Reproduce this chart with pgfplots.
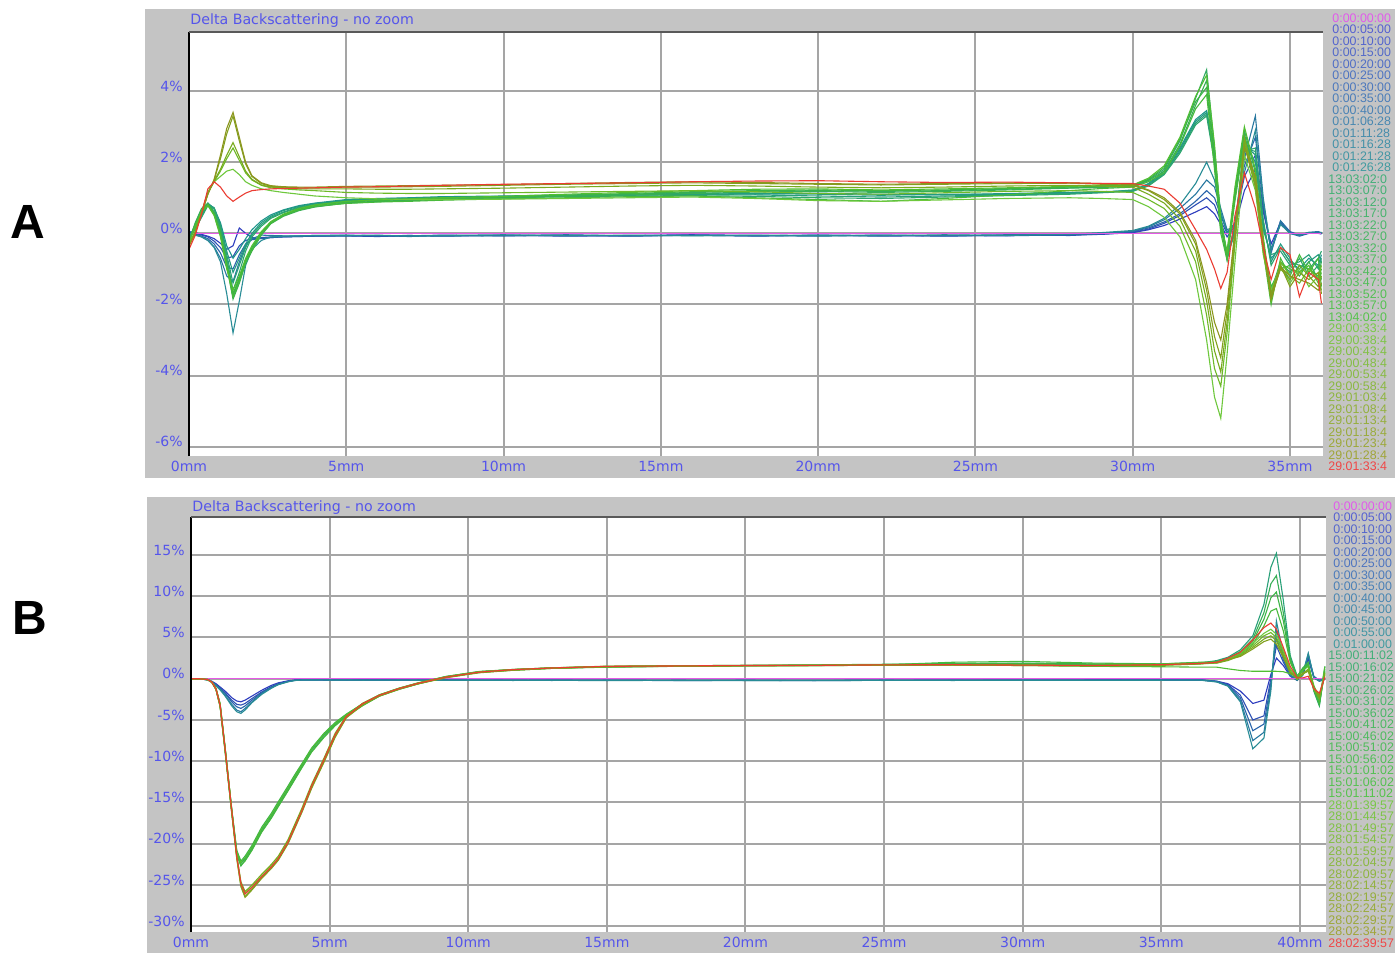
\documentclass[border=0pt]{standalone}
\usepackage{fontspec}
\setmainfont{DejaVu Sans}
\newfontfamily\arialbold{Liberation Sans}[BoldFont=* Bold]
\newfontfamily\legfam{Liberation Sans}
\usepackage{pgfplots}
\usepackage{pgfplotstable}
\pgfplotsset{compat=1.18}

\definecolor{bgGrey}{RGB}{196,196,196}
\definecolor{gridGrey}{RGB}{165,165,165}
\definecolor{tickBlue}{RGB}{85,85,235}
\definecolor{cMag}{RGB}{230,90,230}
\definecolor{cB1}{RGB}{45,60,190}
\definecolor{cB2}{RGB}{45,80,180}
\definecolor{cB3}{RGB}{40,100,170}
\definecolor{cB4}{RGB}{40,120,160}
\definecolor{cB5}{RGB}{40,140,150}
\definecolor{cT1}{RGB}{30,150,140}
\definecolor{cT2}{RGB}{35,155,130}
\definecolor{cT3}{RGB}{40,160,120}
\definecolor{cT4}{RGB}{45,165,110}
\definecolor{cG1}{RGB}{50,170,100}
\definecolor{cG2}{RGB}{55,175,85}
\definecolor{cG3}{RGB}{60,180,70}
\definecolor{cG4}{RGB}{70,185,60}
\definecolor{cG5}{RGB}{80,190,50}
\definecolor{cO1}{RGB}{110,200,60}
\definecolor{cO2}{RGB}{110,185,40}
\definecolor{cO3}{RGB}{120,170,30}
\definecolor{cO4}{RGB}{130,160,30}
\definecolor{cO5}{RGB}{140,150,30}
\definecolor{cRed}{RGB}{235,60,50}
\definecolor{lMag}{RGB}{225,90,235}
\definecolor{lBlue}{RGB}{85,95,210}
\definecolor{lTeal}{RGB}{65,155,160}
\definecolor{lGa}{RGB}{65,175,120}
\definecolor{lGb}{RGB}{85,195,75}
\definecolor{lOa}{RGB}{120,200,70}
\definecolor{lOb}{RGB}{160,165,55}
\definecolor{lRed}{RGB}{240,70,70}

\newcommand\ticklab{\fontsize{7}{8}\selectfont}
\newcommand\legfont{\legfam\fontsize{6.2}{6.5}\selectfont}
\newcommand\titlefont{\fontsize{7.1}{8}\selectfont}

\pgfplotstableread{
x b1 b2 b3 b4 b5 t1 t2 t3 t4 g1 g2 g3 g4 g5 o1 o2 o3 o4 o5 r
0 0.05 0.03 0.02 0.0 0.0 -0.1 -0.12 -0.15 -0.15 -0.2 -0.22 -0.25 -0.25 -0.28 -0.3 -0.32 -0.33 -0.35 -0.36 -0.45
0.2 0.02 0.0 -0.02 -0.05 -0.05 0.2 0.18 0.15 0.12 0.3 0.28 0.25 0.22 0.2 0.05 0.05 0.04 0.03 0.02 -0.05
0.4 -0.03 -0.05 -0.08 -0.1 -0.1 0.55 0.5 0.48 0.45 0.7 0.68 0.65 0.62 0.6 0.6 0.6 0.58 0.57 0.55 0.55
0.6 -0.08 -0.1 -0.15 -0.2 -0.2 0.85 0.82 0.8 0.78 0.85 0.83 0.8 0.8 0.78 1.15 1.15 1.12 1.1 1.1 1.25
0.8 -0.15 -0.22 -0.3 -0.38 -0.4 0.7 0.72 0.7 0.68 0.6 0.58 0.55 0.52 0.5 1.45 1.45 1.48 1.5 1.52 1.45
1.0 -0.28 -0.4 -0.55 -0.7 -0.8 0.3 0.25 0.2 0.15 0.1 0.05 0.0 -0.05 -0.1 1.6 1.75 1.8 2.1 2.2 1.3
1.2 -0.45 -0.7 -0.95 -1.2 -1.7 -0.35 -0.5 -0.6 -0.7 -0.8 -0.9 -0.85 -0.95 -1.0 1.75 2.1 2.2 2.8 2.95 1.05
1.4 -0.35 -0.65 -1.0 -1.35 -2.8 -0.7 -1.1 -1.4 -1.6 -1.75 -1.85 -1.7 -1.8 -1.6 1.8 2.4 2.55 3.3 3.4 0.9
1.6 0.15 -0.35 -0.6 -0.8 -1.9 -0.45 -0.7 -0.9 -1.1 -1.3 -1.4 -1.25 -1.35 -1.2 1.65 2.05 2.15 2.6 2.7 1.02
1.8 0.0 -0.2 -0.3 -0.35 -0.9 -0.15 -0.3 -0.4 -0.5 -0.8 -0.85 -0.75 -0.8 -0.7 1.45 1.7 1.75 1.95 2.0 1.13
2.0 -0.12 -0.15 -0.18 -0.15 -0.45 0.1 0.0 -0.05 -0.1 -0.45 -0.5 -0.4 -0.48 -0.35 1.35 1.5 1.52 1.6 1.62 1.2
2.3 -0.15 -0.12 -0.14 -0.05 -0.2 0.35 0.3 0.25 0.2 0.0 -0.05 0.02 -0.02 0.05 1.25 1.35 1.36 1.4 1.42 1.23
2.6 -0.12 -0.1 -0.12 -0.06 -0.1 0.52 0.48 0.45 0.42 0.3 0.27 0.3 0.28 0.33 1.2 1.28 1.3 1.32 1.34 1.25
3.0 -0.1 -0.09 -0.1 -0.07 -0.08 0.66 0.64 0.6 0.58 0.5 0.48 0.52 0.5 0.54 1.15 1.25 1.28 1.3 1.31 1.26
3.5 -0.09 -0.08 -0.09 -0.07 -0.07 0.78 0.76 0.74 0.72 0.66 0.64 0.68 0.66 0.7 1.1 1.22 1.25 1.28 1.3 1.27
4.0 -0.08 -0.07 -0.08 -0.06 -0.06 0.85 0.84 0.82 0.8 0.75 0.74 0.78 0.76 0.8 1.05 1.2 1.25 1.28 1.3 1.28
5 -0.07 -0.06 -0.08 -0.05 -0.06 0.95 0.93 0.92 0.9 0.86 0.85 0.88 0.84 0.9 1.0 1.15 1.25 1.3 1.32 1.3
6 -0.09 -0.08 -0.06 -0.07 -0.05 0.98 0.97 0.95 0.94 0.9 0.89 0.92 0.88 0.94 0.97 1.13 1.24 1.3 1.33 1.31
7 -0.06 -0.07 -0.09 -0.06 -0.08 1.0 0.99 0.98 0.97 0.93 0.92 0.95 0.9 0.97 0.95 1.12 1.24 1.31 1.34 1.33
8 -0.08 -0.05 -0.06 -0.08 -0.06 1.03 1.01 1.0 0.99 0.96 0.95 0.98 0.93 1.0 0.95 1.12 1.25 1.32 1.35 1.35
10 -0.05 -0.07 -0.07 -0.06 -0.04 1.05 1.04 1.02 1.01 1.0 0.99 1.02 0.97 1.04 0.96 1.14 1.27 1.35 1.37 1.38
12 -0.08 -0.06 -0.05 -0.04 -0.07 1.08 1.06 1.05 1.03 1.05 1.04 1.07 1.0 1.1 0.98 1.16 1.3 1.38 1.4 1.4
14 -0.06 -0.08 -0.07 -0.07 -0.05 1.1 1.08 1.07 1.05 1.1 1.08 1.12 1.03 1.15 1.0 1.18 1.33 1.4 1.43 1.42
16 -0.04 -0.05 -0.06 -0.05 -0.07 1.12 1.1 1.09 1.06 1.15 1.12 1.17 1.05 1.2 1.02 1.2 1.35 1.42 1.45 1.45
18 -0.07 -0.06 -0.08 -0.06 -0.05 1.1 1.12 1.08 1.04 1.18 1.16 1.2 1.0 1.24 0.98 1.17 1.33 1.4 1.43 1.47
20 -0.05 -0.07 -0.05 -0.08 -0.06 1.13 1.1 1.05 1.0 1.2 1.18 1.22 0.95 1.25 0.92 1.12 1.3 1.38 1.4 1.48
22 -0.08 -0.05 -0.06 -0.05 -0.07 1.1 1.07 1.02 0.98 1.18 1.15 1.2 0.9 1.22 0.9 1.1 1.28 1.36 1.38 1.45
24 -0.06 -0.08 -0.07 -0.06 -0.04 1.08 1.1 1.05 1.02 1.2 1.18 1.22 0.98 1.25 0.94 1.14 1.3 1.38 1.4 1.43
26 -0.07 -0.05 -0.06 -0.04 -0.06 1.12 1.1 1.08 1.06 1.24 1.22 1.26 1.08 1.28 0.98 1.18 1.33 1.4 1.42 1.44
28 -0.04 -0.06 -0.05 -0.03 -0.02 1.15 1.13 1.12 1.1 1.28 1.27 1.3 1.2 1.32 1.0 1.2 1.35 1.41 1.42 1.42
29 -0.03 -0.02 -0.01 0.0 0.02 1.17 1.15 1.16 1.14 1.3 1.29 1.32 1.26 1.34 0.98 1.18 1.33 1.38 1.4 1.4
30 0.02 0.03 0.05 0.06 0.08 1.2 1.22 1.2 1.18 1.33 1.32 1.35 1.3 1.36 0.95 1.15 1.3 1.35 1.37 1.4
30.5 0.1 0.12 0.15 0.18 0.2 1.4 1.38 1.35 1.33 1.5 1.48 1.52 1.45 1.55 0.75 0.95 1.1 1.2 1.22 1.33
31 0.22 0.28 0.32 0.38 0.42 1.75 1.7 1.68 1.65 1.8 1.75 1.85 1.7 1.9 0.45 0.7 0.85 0.95 1.0 1.24
31.5 0.4 0.5 0.55 0.7 0.8 2.4 2.35 2.3 2.25 2.6 2.5 2.65 2.45 2.7 -0.1 0.2 0.4 0.55 0.6 0.85
32 0.6 0.8 0.9 1.1 1.4 3.2 3.15 3.1 3.05 3.8 3.6 3.7 3.5 3.85 -1.3 -0.8 -0.5 -0.3 -0.2 0.1
32.35 0.75 1.0 1.2 1.5 2.0 3.45 3.4 3.35 3.3 4.6 4.3 4.1 3.9 4.45 -3.0 -2.3 -1.9 -1.6 -1.4 -0.45
32.6 0.55 0.8 1.0 1.3 1.5 2.3 2.2 2.1 2.0 2.4 2.2 2.0 1.8 2.5 -4.6 -3.8 -3.3 -2.9 -2.5 -1.0
32.8 0.25 0.35 0.5 0.7 0.6 0.5 0.4 0.3 0.35 0.3 0.2 0.1 0.0 0.4 -5.2 -4.3 -3.9 -3.5 -3.0 -1.55
33.0 -0.1 0.0 0.05 0.1 0.0 -0.7 -0.6 -0.75 -0.65 -0.6 -0.7 -0.5 -0.75 -0.55 -3.4 -2.8 -2.5 -2.2 -2.0 -1.1
33.25 0.2 0.3 0.15 0.2 0.25 0.1 0.2 0.15 0.0 1.0 1.2 1.1 0.9 1.3 -0.8 -0.3 -0.2 0.0 0.1 0.5
33.55 1.2 1.6 1.9 2.1 1.7 2.6 2.5 2.4 2.3 2.8 2.9 2.7 2.6 3.0 2.2 2.6 2.7 2.5 2.4 1.7
33.9 1.8 2.2 2.7 3.3 2.9 2.0 2.2 2.3 2.4 1.5 1.7 1.4 1.3 1.8 1.2 1.4 1.5 1.3 1.6 0.7
34.15 0.6 0.7 0.8 1.0 0.9 0.2 0.3 0.1 0.4 -0.3 -0.2 -0.4 -0.5 -0.1 -0.6 -0.4 -0.5 -0.3 -0.2 -0.4
34.4 -0.3 -0.45 -0.5 -0.55 -0.45 -0.7 -0.8 -0.6 -0.9 -1.6 -1.8 -1.5 -2.0 -1.7 -1.6 -1.9 -1.8 -1.7 -1.85 -1.3
34.7 0.3 0.35 0.3 0.35 0.25 -0.4 -0.3 -0.5 -0.4 -0.8 -0.9 -1.0 -0.7 -0.85 -0.9 -0.8 -1.0 -0.9 -0.95 -0.4
35.0 0.0 0.05 0.0 0.02 0.0 -0.8 -0.7 -0.9 -0.8 -1.1 -1.3 -0.9 -1.2 -1.0 -1.4 -1.2 -1.3 -1.5 -1.2 -0.6
35.3 -0.05 -0.05 -0.08 -0.05 -0.05 -1.0 -1.1 -0.8 -0.9 -0.7 -0.9 -1.2 -0.6 -1.1 -1.0 -1.4 -0.9 -1.1 -1.3 -1.78
35.6 0.02 0.0 0.0 0.03 0.02 -0.7 -0.8 -0.6 -1.0 -1.2 -1.0 -0.8 -1.1 -0.9 -1.5 -1.0 -1.2 -1.3 -1.4 -1.1
35.9 0.0 0.03 0.04 0.05 0.0 -0.9 -0.6 -1.0 -0.7 -0.9 -1.2 -1.3 -0.7 -1.4 -1.2 -1.3 -1.5 -1.1 -1.6 -1.3
36.0 -0.02 0.0 0.02 0.0 0.03 -0.6 -0.8 -0.7 -0.5 -1.3 -0.8 -1.0 -1.5 -1.1 -1.6 -0.9 -1.2 -1.7 -1.4 -1.97
}\tabA

\pgfplotstableread{
x b1 b2 b3 b4 b5 g1 g2 g3 g4 g5 o1 o2 o3 o4 r
0 0 0 0 0 0 0 0 0 0 0 0 0 0 0 0
0.3 0 0 0 0 0 0 0 0 0 0 0 0 0 0 0
0.6 -0.1 -0.12 -0.12 -0.15 -0.15 -0.1 -0.1 -0.1 -0.12 -0.1 -0.1 -0.1 -0.1 -0.12 -0.1
0.75 -0.3 -0.35 -0.38 -0.4 -0.42 -0.4 -0.4 -0.4 -0.45 -0.38 -0.4 -0.42 -0.4 -0.43 -0.4
0.9 -0.6 -0.7 -0.75 -0.8 -0.85 -1.2 -1.3 -1.2 -1.3 -1.15 -1.2 -1.25 -1.2 -1.3 -1.2
1.05 -1.0 -1.1 -1.2 -1.3 -1.35 -3.2 -3.4 -3.1 -3.3 -3.0 -3.2 -3.3 -3.1 -3.35 -3.2
1.23 -1.5 -1.7 -1.8 -2.0 -2.1 -8.5 -8.8 -8.4 -8.6 -8.3 -8.5 -8.7 -8.4 -8.8 -8.5
1.47 -2.3 -2.6 -2.8 -3.1 -3.3 -16.0 -16.3 -15.8 -16.1 -15.9 -16.0 -16.2 -15.9 -16.3 -16.0
1.65 -2.7 -3.1 -3.4 -3.8 -4.0 -21.0 -21.3 -20.8 -21.2 -20.9 -21.5 -21.7 -21.4 -21.8 -21.5
1.8 -2.8 -3.2 -3.6 -4.0 -4.2 -22.4 -22.7 -22.1 -22.6 -22.3 -24.8 -25.1 -24.6 -25.2 -24.8
1.95 -2.6 -3.0 -3.3 -3.6 -3.8 -21.8 -22.0 -21.5 -22.1 -21.7 -26.0 -26.4 -25.8 -26.5 -26.1
2.2 -2.1 -2.4 -2.6 -2.8 -2.9 -20.5 -20.7 -20.2 -20.8 -20.4 -25.2 -25.5 -25.0 -25.6 -25.3
2.55 -1.4 -1.6 -1.7 -1.8 -1.9 -18.3 -18.5 -18.0 -18.6 -18.2 -23.9 -24.1 -23.7 -24.2 -24.0
2.9 -0.8 -0.95 -1.0 -1.1 -1.15 -16.6 -16.8 -16.3 -16.9 -16.5 -22.7 -22.9 -22.5 -23.0 -22.8
3.15 -0.5 -0.6 -0.65 -0.7 -0.72 -15.2 -15.4 -14.9 -15.5 -15.1 -21.7 -21.9 -21.5 -22.0 -21.8
3.5 -0.25 -0.3 -0.32 -0.35 -0.38 -13.3 -13.5 -13.0 -13.6 -13.2 -19.7 -19.9 -19.5 -20.0 -19.8
3.75 -0.15 -0.18 -0.2 -0.2 -0.22 -11.9 -12.1 -11.6 -12.2 -11.8 -17.8 -18.0 -17.6 -18.1 -17.9
4.0 -0.12 -0.14 -0.15 -0.15 -0.16 -10.5 -10.7 -10.3 -10.8 -10.4 -15.9 -16.1 -15.7 -16.2 -16.0
4.35 -0.12 -0.14 -0.15 -0.13 -0.16 -8.6 -8.8 -8.4 -8.9 -8.5 -13.0 -13.2 -12.8 -13.3 -13.0
4.8 -0.14 -0.15 -0.16 -0.15 -0.14 -6.8 -7.0 -6.6 -7.1 -6.7 -9.8 -10.0 -9.6 -10.1 -9.8
5.2 -0.13 -0.15 -0.14 -0.16 -0.17 -5.5 -5.6 -5.3 -5.7 -5.4 -6.8 -7.0 -6.6 -7.1 -6.8
5.6 -0.15 -0.16 -0.17 -0.14 -0.15 -4.4 -4.5 -4.3 -4.6 -4.35 -4.6 -4.7 -4.5 -4.75 -4.6
6.2 -0.14 -0.17 -0.15 -0.17 -0.18 -3.1 -3.2 -3.0 -3.25 -3.05 -3.0 -3.1 -2.95 -3.15 -3.0
6.8 -0.16 -0.15 -0.18 -0.16 -0.17 -2.0 -2.1 -1.95 -2.1 -1.98 -2.0 -2.05 -1.95 -2.1 -2.0
7.5 -0.15 -0.18 -0.16 -0.18 -0.16 -1.2 -1.25 -1.15 -1.3 -1.18 -1.2 -1.25 -1.15 -1.28 -1.2
8.2 -0.17 -0.16 -0.19 -0.17 -0.19 -0.55 -0.6 -0.5 -0.62 -0.52 -0.55 -0.6 -0.5 -0.62 -0.55
9.2 -0.16 -0.19 -0.17 -0.18 -0.2 0.25 0.2 0.28 0.18 0.26 0.2 0.15 0.22 0.12 0.2
10.4 -0.18 -0.17 -0.2 -0.19 -0.18 0.85 0.8 0.88 0.78 0.86 0.8 0.75 0.82 0.72 0.8
11.6 -0.17 -0.2 -0.18 -0.2 -0.21 1.1 1.05 1.12 1.02 1.08 1.1 1.05 1.12 1.02 1.1
13 -0.19 -0.18 -0.21 -0.19 -0.2 1.3 1.28 1.32 1.25 1.3 1.3 1.27 1.32 1.25 1.3
15 -0.18 -0.21 -0.19 -0.2 -0.22 1.45 1.42 1.48 1.4 1.44 1.5 1.47 1.52 1.45 1.5
17.5 -0.2 -0.19 -0.22 -0.21 -0.2 1.55 1.52 1.57 1.5 1.53 1.55 1.52 1.57 1.5 1.55
20 -0.19 -0.2 -0.2 -0.22 -0.21 1.6 1.58 1.62 1.56 1.58 1.6 1.58 1.62 1.56 1.6
22.5 -0.2 -0.22 -0.21 -0.2 -0.23 1.65 1.62 1.68 1.6 1.6 1.62 1.6 1.64 1.58 1.62
25 -0.18 -0.2 -0.19 -0.21 -0.2 1.7 1.72 1.75 1.68 1.62 1.68 1.66 1.7 1.64 1.68
27.5 -0.19 -0.18 -0.2 -0.19 -0.21 1.75 1.85 1.8 2.0 1.65 1.7 1.68 1.72 1.66 1.7
30 -0.17 -0.19 -0.18 -0.2 -0.19 1.75 1.9 1.85 2.1 1.6 1.65 1.62 1.68 1.6 1.65
32.5 -0.16 -0.17 -0.19 -0.18 -0.2 1.7 1.8 1.75 1.9 1.5 1.6 1.58 1.62 1.55 1.6
35 -0.15 -0.16 -0.17 -0.17 -0.18 1.75 1.8 1.7 1.8 1.45 1.7 1.65 1.72 1.62 1.7
36.4 -0.13 -0.15 -0.16 -0.15 -0.17 1.9 1.95 1.85 2.0 1.4 1.85 1.8 1.88 1.78 1.85
37.0 -0.3 -0.3 -0.35 -0.35 -0.4 2.2 2.1 2.0 2.0 1.4 2.0 1.9 1.9 2.0 2.0
37.4 -0.6 -0.7 -0.8 -0.85 -0.9 2.6 2.5 2.4 2.3 1.2 2.4 2.3 2.2 2.3 2.5
37.85 -1.5 -2.0 -2.3 -2.6 -2.8 3.5 3.3 3.1 3.0 1.0 3.1 2.9 2.8 2.7 3.2
38.3 -3.0 -5.0 -6.3 -7.5 -8.5 5.2 4.8 4.5 4.2 0.9 4.3 4.0 3.8 3.6 4.7
38.7 -2.6 -4.5 -5.5 -6.5 -7.2 9.0 8.0 7.2 6.4 0.9 5.5 5.2 4.8 4.5 6.2
38.95 0.5 0.0 -0.5 -1.0 -1.5 13.5 11.5 9.8 8.2 0.9 6.0 5.6 5.2 4.8 6.75
39.15 2.5 4.0 5.0 6.0 7.0 15.2 12.5 10.5 8.5 0.9 5.4 5.0 4.6 4.2 6.0
39.4 1.6 2.0 2.3 2.6 2.8 9.5 8.0 7.0 5.8 0.85 3.5 3.2 2.8 2.6 3.8
39.65 0.3 0.4 0.3 0.4 0.5 2.8 2.5 2.2 2.0 0.6 1.2 1.0 0.8 0.7 1.5
39.9 -0.1 -0.1 -0.2 -0.2 -0.1 0.3 0.2 0.3 0.1 0.3 0.0 -0.1 0.0 0.1 0.1
40.1 0.5 0.6 0.4 0.5 0.6 1.2 1.0 1.3 1.1 1.0 0.6 0.5 0.7 0.6 0.1
40.3 2.4 2.6 2.8 3.0 3.1 1.8 1.6 2.0 1.7 1.5 1.0 1.2 1.1 0.9 0.3
40.5 0.2 0.1 0.3 0.2 0.1 -1.5 -1.2 -1.4 -1.0 -0.8 -1.2 -1.0 -1.3 -1.1 -1.2
40.7 -0.2 -0.3 -0.2 -0.3 -0.25 -3.3 -3.0 -3.2 -2.8 -2.5 -2.2 -2.0 -2.4 -2.1 -1.75
40.9 0.0 0.1 0.0 -0.1 0.05 1.5 1.2 1.0 0.8 1.5 0.6 0.5 0.7 0.4 0.2
}\tabB

\pgfplotsset{
  bsplot/.style={
    scale only axis,
    axis background/.style={fill=white},
    axis x line=bottom, axis y line=left,
    axis line style={draw=none},
    major tick length=0pt,
    grid=major,
    major grid style={gridGrey, line width=1pt},
    tick label style={font=\ticklab, text=tickBlue, inner sep=0pt},
    xticklabel style={yshift=-2.5pt},
    yticklabel style={xshift=-3pt, yshift=2.5pt},
    clip=false,
  },
  ln/.style={line width=0.55pt},
}

\begin{document}
\begin{tikzpicture}
\useasboundingbox (0pt,0pt) rectangle (697.5pt,-476.5pt);
\fill[white] (0pt,0pt) rectangle (697.5pt,-476.5pt);
\fill[bgGrey] (72.5pt,-4.5pt) rectangle (697.5pt,-239pt);
\fill[bgGrey] (73.5pt,-248.5pt) rectangle (697.5pt,-476.5pt);

% ---------------- Panel A ----------------
\begin{axis}[bsplot,
  at={(94.5pt,-16pt)}, anchor=north west,
  width=567pt, height=212pt,
  xmin=0, xmax=36.05, ymin=-6.26, ymax=5.66,
  xtick={0,5,...,35}, xticklabels={0mm,5mm,10mm,15mm,20mm,25mm,30mm,35mm},
  ytick={-6,-4,...,4}, yticklabels={-6\%,-4\%,-2\%,0\%,2\%,4\%},
]
\addplot[ln, cB1] table[x=x,y=b1]{\tabA};
\addplot[ln, cB2] table[x=x,y=b2]{\tabA};
\addplot[ln, cB3] table[x=x,y=b3]{\tabA};
\addplot[ln, cB4] table[x=x,y=b4]{\tabA};
\addplot[ln, cB5] table[x=x,y=b5]{\tabA};
\addplot[ln, cMag] coordinates {(0,0) (36.0,0)};
\addplot[ln, cT1] table[x=x,y=t1]{\tabA};
\addplot[ln, cT2] table[x=x,y=t2]{\tabA};
\addplot[ln, cT3] table[x=x,y=t3]{\tabA};
\addplot[ln, cT4] table[x=x,y=t4]{\tabA};
\addplot[ln, cG1] table[x=x,y=g1]{\tabA};
\addplot[ln, cG2] table[x=x,y=g2]{\tabA};
\addplot[ln, cG3] table[x=x,y=g3]{\tabA};
\addplot[ln, cG4] table[x=x,y=g4]{\tabA};
\addplot[ln, cG5] table[x=x,y=g5]{\tabA};
\addplot[ln, cO1] table[x=x,y=o1]{\tabA};
\addplot[ln, cO2] table[x=x,y=o2]{\tabA};
\addplot[ln, cO3] table[x=x,y=o3]{\tabA};
\addplot[ln, cO4] table[x=x,y=o4]{\tabA};
\addplot[ln, cO5] table[x=x,y=o5]{\tabA};
\addplot[ln, cRed] table[x=x,y=r]{\tabA};
\draw[black, line width=1.2pt] (rel axis cs:0,0) -- (rel axis cs:0,1);
\draw[black!65, line width=1.2pt] (rel axis cs:0,1) -- (rel axis cs:1,1);
\end{axis}

% ---------------- Panel B ----------------
\begin{axis}[bsplot,
  at={(95.5pt,-258.5pt)}, anchor=north west,
  width=567.5pt, height=207.5pt,
  xmin=0, xmax=40.94, ymin=-30.7, ymax=19.6,
  xtick={0,5,...,40}, xticklabels={0mm,5mm,10mm,15mm,20mm,25mm,30mm,35mm,40mm},
  ytick={-30,-25,...,15}, yticklabels={-30\%,-25\%,-20\%,-15\%,-10\%,-5\%,0\%,5\%,10\%,15\%},
]
\addplot[ln, cB1] table[x=x,y=b1]{\tabB};
\addplot[ln, cB2] table[x=x,y=b2]{\tabB};
\addplot[ln, cB3] table[x=x,y=b3]{\tabB};
\addplot[ln, cB4] table[x=x,y=b4]{\tabB};
\addplot[ln, cB5] table[x=x,y=b5]{\tabB};
\addplot[ln, cMag] coordinates {(0,0) (40.9,0)};
\addplot[ln, cT3] table[x=x,y=g1]{\tabB};
\addplot[ln, cG2] table[x=x,y=g2]{\tabB};
\addplot[ln, cG3] table[x=x,y=g3]{\tabB};
\addplot[ln, cG4] table[x=x,y=g4]{\tabB};
\addplot[ln, cG5] table[x=x,y=g5]{\tabB};
\addplot[ln, cO1] table[x=x,y=o1]{\tabB};
\addplot[ln, cO2] table[x=x,y=o2]{\tabB};
\addplot[ln, cO3] table[x=x,y=o3]{\tabB};
\addplot[ln, cO4] table[x=x,y=o4]{\tabB};
\addplot[ln, cRed] table[x=x,y=r]{\tabB};
\draw[black, line width=1.2pt] (rel axis cs:0,0) -- (rel axis cs:0,1);
\draw[black!65, line width=1.2pt] (rel axis cs:0,1) -- (rel axis cs:1,1);
\end{axis}

% titles
\node[anchor=base west, inner sep=0pt, text=tickBlue, font=\titlefont] at (95pt,-12.5pt) {Delta Backscattering - no zoom};
\node[anchor=base west, inner sep=0pt, text=tickBlue, font=\titlefont] at (96pt,-255.5pt) {Delta Backscattering - no zoom};

% panel letters
\node[font=\arialbold\bfseries\fontsize{24}{24}\selectfont, inner sep=0pt] at (14pt,-111pt) {A};
\node[font=\arialbold\bfseries\fontsize{24}{24}\selectfont, inner sep=0pt] at (15pt,-309pt) {B};

% legend A
\tikzset{leg/.style={anchor=west, inner sep=0pt, font=\legfont}}
\node[leg, text=lMag] at (666pt,-9pt) {0:00:00:00};
\foreach \lab [count=\k from 0] in {0:00:05:00,0:00:10:00,0:00:15:00,0:00:20:00,0:00:25:00,0:00:30:00,0:00:35:00,0:00:40:00,0:01:06:28,0:01:11:28,0:01:16:28,0:01:21:28,0:01:26:28}{
  \pgfmathtruncatemacro\p{100-100*\k/12}
  \pgfmathsetmacro\yy{-(9+5.75*(\k+1))}
  \node[leg, text=lBlue!\p!lTeal] at (666pt,\yy pt) {\lab};
}
\foreach \lab [count=\k from 0] in {13:03:02:0,13:03:07:0,13:03:12:0,13:03:17:0,13:03:22:0,13:03:27:0,13:03:32:0,13:03:37:0,13:03:42:0,13:03:47:0,13:03:52:0,13:03:57:0,13:04:02:0}{
  \pgfmathtruncatemacro\p{100-100*\k/12}
  \pgfmathsetmacro\yy{-(9+5.75*(\k+14))}
  \node[leg, text=lGa!\p!lGb] at (664pt,\yy pt) {\lab};
}
\foreach \lab [count=\k from 0] in {29:00:33:4,29:00:38:4,29:00:43:4,29:00:48:4,29:00:53:4,29:00:58:4,29:01:03:4,29:01:08:4,29:01:13:4,29:01:18:4,29:01:23:4,29:01:28:4}{
  \pgfmathtruncatemacro\p{100-100*\k/11}
  \pgfmathsetmacro\yy{-(9+5.75*(\k+27))}
  \node[leg, text=lOa!\p!lOb] at (664pt,\yy pt) {\lab};
}
\node[leg, text=lRed] at (664pt,{-(9+5.75*39)*1pt}) {29:01:33:4};

% legend B
\node[leg, text=lMag] at (666.5pt,-253pt) {0:00:00:00};
\foreach \lab [count=\k from 0] in {0:00:05:00,0:00:10:00,0:00:15:00,0:00:20:00,0:00:25:00,0:00:30:00,0:00:35:00,0:00:40:00,0:00:45:00,0:00:50:00,0:00:55:00,0:01:00:00}{
  \pgfmathtruncatemacro\p{100-100*\k/11}
  \pgfmathsetmacro\yy{-(253+5.75*(\k+1))}
  \node[leg, text=lBlue!\p!lTeal] at (666.5pt,\yy pt) {\lab};
}
\foreach \lab [count=\k from 0] in {15:00:11:02,15:00:16:02,15:00:21:02,15:00:26:02,15:00:31:02,15:00:36:02,15:00:41:02,15:00:46:02,15:00:51:02,15:00:56:02,15:01:01:02,15:01:06:02,15:01:11:02}{
  \pgfmathtruncatemacro\p{100-100*\k/12}
  \pgfmathsetmacro\yy{-(253+5.75*(\k+13))}
  \node[leg, text=lGa!\p!lGb] at (664pt,\yy pt) {\lab};
}
\foreach \lab [count=\k from 0] in {28:01:39:57,28:01:44:57,28:01:49:57,28:01:54:57,28:01:59:57,28:02:04:57,28:02:09:57,28:02:14:57,28:02:19:57,28:02:24:57,28:02:29:57,28:02:34:57}{
  \pgfmathtruncatemacro\p{100-100*\k/11}
  \pgfmathsetmacro\yy{-(253+5.75*(\k+26))}
  \node[leg, text=lOa!\p!lOb] at (664pt,\yy pt) {\lab};
}
\node[leg, text=lRed] at (664pt,{-(253+5.75*38)*1pt}) {28:02:39:57};
\end{tikzpicture}
\end{document}
